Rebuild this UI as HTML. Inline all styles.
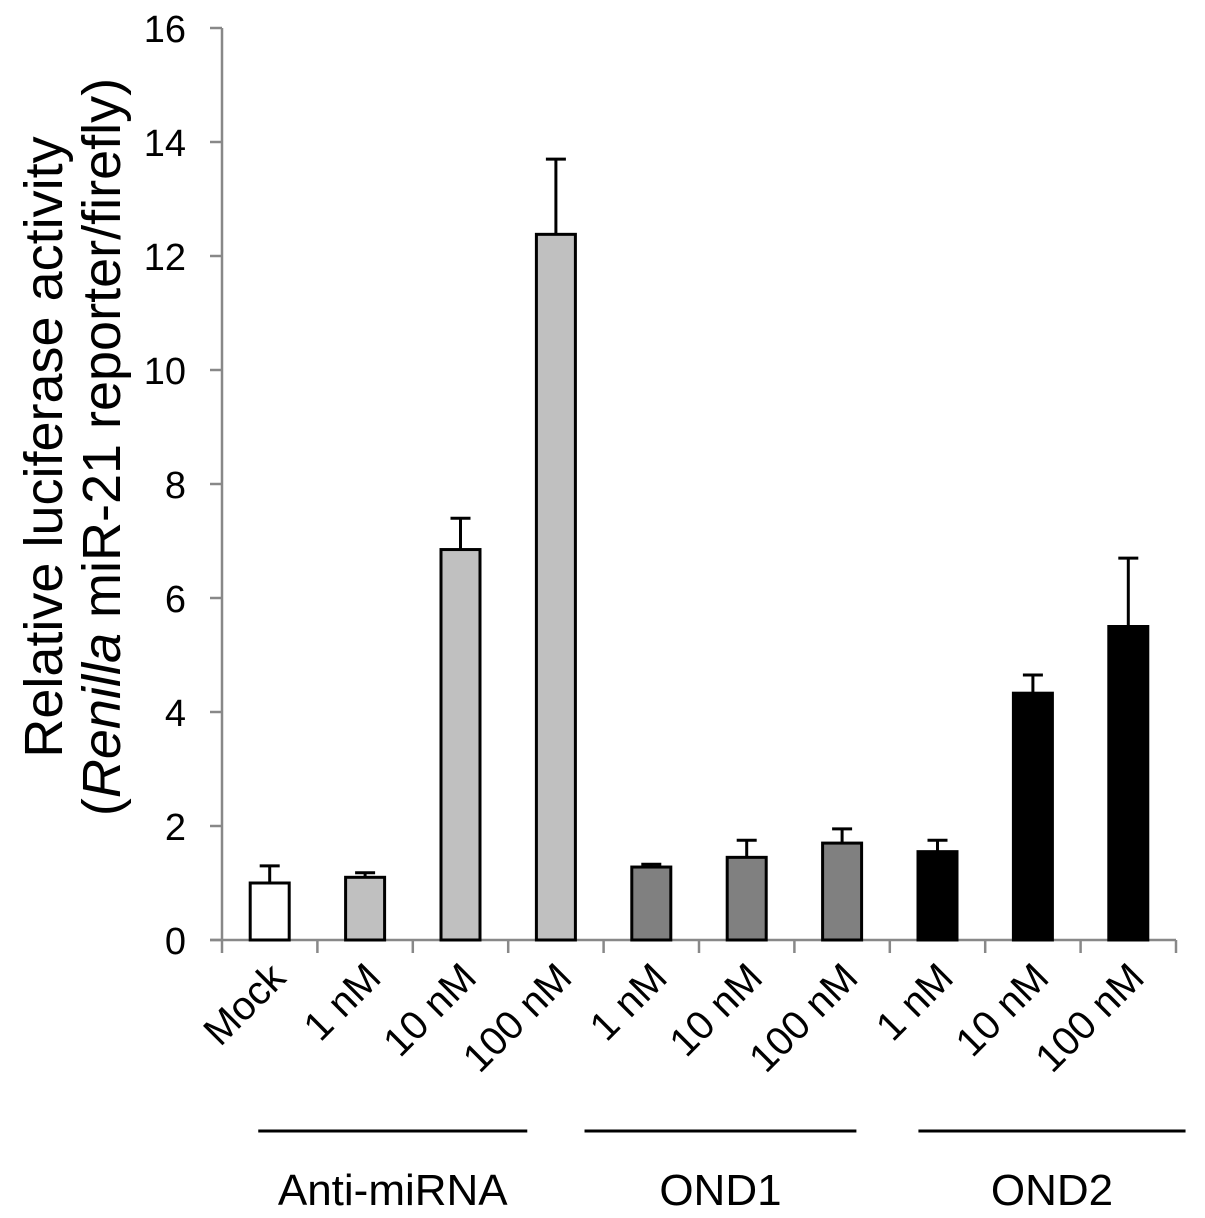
<!DOCTYPE html>
<html><head><meta charset="utf-8"><style>body{margin:0;background:#fff}svg{display:block;font-family:"Liberation Sans",sans-serif}</style></head>
<body>
<svg id="chart" width="1205" height="1218" viewBox="0 0 1205 1218" xmlns="http://www.w3.org/2000/svg"></svg>
<script>
const categories=["Mock","1 nM","10 nM","100 nM","1 nM","10 nM","100 nM","1 nM","10 nM","100 nM"];
const values=[1.0,1.1,6.85,12.38,1.28,1.45,1.7,1.55,4.33,5.5];
const errors=[0.3,0.08,0.55,1.32,0.05,0.3,0.25,0.2,0.32,1.2];
const fills=["#ffffff","#c0c0c0","#c0c0c0","#c0c0c0","#808080","#808080","#808080","#000000","#000000","#000000"];
const yTicks=[0,2,4,6,8,10,12,14,16];
const groups=["Anti-miRNA","OND1","OND2"];
const groupStart=[0.38,3.8,7.3];
const groupEnd=[3.2,6.65,10.1];
const svg=document.getElementById('chart');
const NS='http://www.w3.org/2000/svg';
const x0=222,step=95.4,y0=940,ppu=(940-28)/16;
const xs=i=>x0+step*(i+0.5);
const xe=v=>x0+step*v;
const ys=v=>y0-v*ppu;
function mk(t,a){const e=document.createElementNS(NS,t);for(const k in a)e.setAttribute(k,a[k]);svg.appendChild(e);return e;}
let e;
e=mk('line',{x1:x0,y1:ys(16),x2:x0,y2:y0,stroke:'#888','stroke-width':2.5});


e=mk('line',{x1:210,y1:y0,x2:x0+step*10,y2:y0,stroke:'#888','stroke-width':2.5});


yTicks.forEach(v=>{
 e=mk('line',{x1:210,y1:ys(v),x2:x0,y2:ys(v),stroke:'#888','stroke-width':2.5});
 
 
 e=mk('text',{x:186,y:ys(v)+14,'text-anchor':'end','font-size':38});
 e.textContent=v;
 
 
});
for(let i=0;i<=10;i++){
 e=mk('line',{x1:xe(i),y1:y0,x2:xe(i),y2:y0+13,stroke:'#888','stroke-width':2.5});
 
 
}
categories.forEach((c,i)=>{
 const cx=xs(i),w=39;
 e=mk('line',{x1:cx,y1:ys(values[i]),x2:cx,y2:ys(values[i]+errors[i]),stroke:'#000','stroke-width':3});
 
 
 e=mk('line',{x1:cx-10,y1:ys(values[i]+errors[i]),x2:cx+10,y2:ys(values[i]+errors[i]),stroke:'#000','stroke-width':3});
 
 
 e=mk('rect',{x:cx-w/2,y:ys(values[i]),width:w,height:y0-ys(values[i]),fill:fills[i],stroke:'#000','stroke-width':3});
 
 
 const tx=cx+18,ty=980;
 e=mk('text',{x:tx,y:ty,'text-anchor':'end','font-size':40,transform:`rotate(-45 ${tx} ${ty})`});
 e.textContent=c;
 
 
});
groups.forEach((g,i)=>{
 e=mk('line',{x1:xe(groupStart[i]),y1:1131,x2:xe(groupEnd[i]),y2:1131,stroke:'#000','stroke-width':3});
 
 
 e=mk('text',{x:(xe(groupStart[i])+xe(groupEnd[i]))/2,y:1205,'text-anchor':'middle','font-size':44});
 e.textContent=g;
 
 
});
e=mk('text',{x:0,y:0,'text-anchor':'middle','font-size':54,transform:'translate(62 447) rotate(-90)'});
e.textContent='Relative luciferase activity';


e=mk('text',{x:0,y:0,'text-anchor':'middle','font-size':54,transform:'translate(120 447) rotate(-90)'});
e.innerHTML='(<tspan font-style="italic">Renilla</tspan> miR-21 reporter/firefly)';


</script>
</body></html>
